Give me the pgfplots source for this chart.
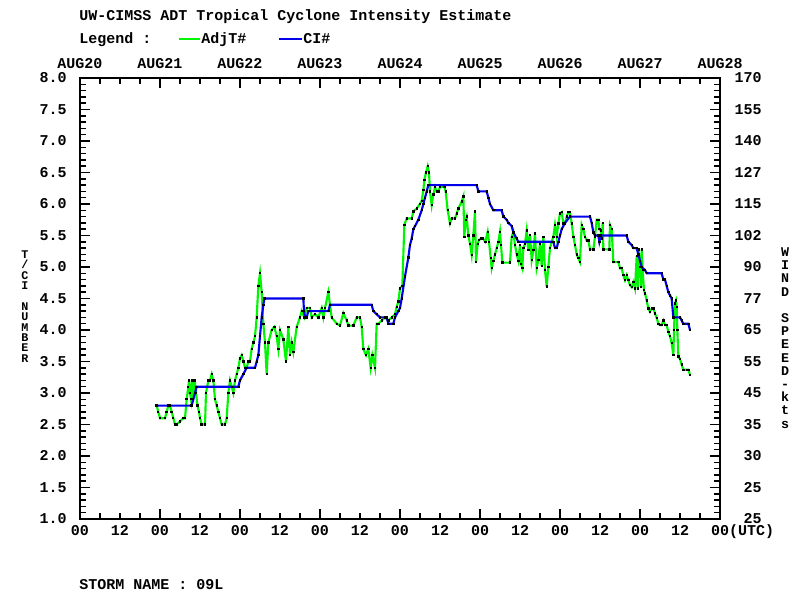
\documentclass[border=0pt]{standalone}
\usepackage{fontspec}
\setmainfont{Liberation Mono}
\usepackage{pgfplots}
\pgfplotsset{compat=1.18}
\newcommand\pf{\fontsize{11.25pt}{13pt}\selectfont\bfseries}
\definecolor{adjg}{RGB}{0,245,0}
\definecolor{cib}{RGB}{0,0,235}
\begin{document}
\begin{tikzpicture}
\path[use as bounding box] (-60pt,-60.75pt) rectangle (540pt,389.25pt);
\begin{axis}[
  at={(0pt,0pt)}, anchor=south west,
  width=480pt, height=330.75pt, scale only axis,
  xmin=0, xmax=192, ymin=1, ymax=8,
  axis line style={line width=1.5pt},
  tick style={black, line width=1.1pt},
  tick align=inside,
  major tick length=7.5pt, minor tick length=4.5pt,
  xtick={0,24,...,192},
  xticklabels={00,00,00,00,00,00,00,00,00\rlap{(UTC)}},
  extra x ticks={12,36,...,180},
  extra x tick labels={12,12,12,12,12,12,12,12},
  extra x tick style={major tick length=4.5pt},
  minor xtick={6,18,...,186},
  ytick={1,1.5,...,8},
  yticklabels={1.0,1.5,2.0,2.5,3.0,3.5,4.0,4.5,5.0,5.5,6.0,6.5,7.0,7.5,8.0},
  minor y tick num=4,
  ticklabel style={font=\pf, inner sep=0pt},
  xticklabel style={anchor=base, yshift=-12pt},
  yticklabel style={anchor=east, xshift=-9.75pt},
]
\addplot[adjg, line width=1.6pt, mark=square*, mark size=0.5pt, mark options={black, fill=black, line width=0pt}] coordinates {
(23.0,2.8) (23.5,2.7) (24.0,2.6) (25.5,2.6) (26.0,2.7) (26.5,2.8) (27.0,2.8) (27.5,2.7)
(28.0,2.6) (28.5,2.5) (29.0,2.5) (30.0,2.55) (31.0,2.6) (31.5,2.6) (32.0,2.9) (32.5,3.1)
(32.7,3.2) (33.0,3.0) (33.3,2.9) (33.6,3.2) (34.0,2.9) (34.4,3.2) (34.8,3.0) (35.25,2.8)
(35.7,2.7) (36.0,2.6) (36.5,2.5) (37.5,2.5) (37.8,3.0) (38.5,3.2) (39.0,3.2) (39.5,3.3)
(40.0,3.2) (40.5,2.9) (41.0,2.8) (41.5,2.7) (42.0,2.6) (42.5,2.5) (43.5,2.5) (44.0,2.6)
(44.5,3.0) (45.0,3.2) (45.5,3.1) (46.0,3.0) (46.5,3.2) (47.0,3.3) (47.5,3.4) (48.0,3.55)
(48.5,3.6) (49.0,3.5) (49.5,3.4) (50.0,3.4) (50.5,3.5) (51.0,3.5) (51.5,3.7) (52.0,3.8)
(52.5,3.9) (53.0,4.2) (53.5,4.7) (54.0,4.9) (54.5,4.6) (55.0,4.1) (55.5,3.8) (56.0,3.3)
(56.5,3.8) (57.5,4.0) (58.3,4.05) (59.0,3.9) (59.5,3.7) (60.0,4.0) (61.0,3.85) (61.8,3.5)
(62.5,4.05) (63.0,3.6) (63.5,3.8) (64.0,3.65) (65.0,4.05) (66.0,4.2) (66.5,4.3) (67.3,4.2)
(68.0,4.35) (69.0,4.35) (69.5,4.2) (70.5,4.25) (71.5,4.2) (72.5,4.35) (73.0,4.2) (73.5,4.35)
(74.5,4.6) (75.0,4.4) (75.5,4.2) (77.0,4.1) (78.0,4.07) (79.0,4.27) (80.0,4.15) (80.5,4.07)
(82.0,4.07) (83.0,4.2) (84.0,4.2) (84.5,4.05) (85.0,3.7) (85.8,3.6) (86.5,3.7) (87.2,3.4)
(87.7,3.6) (88.5,3.4) (89.0,4.1) (89.5,4.1) (90.5,4.15) (91.5,4.2) (92.5,4.15) (93.5,4.2)
(94.5,4.25) (95.0,4.37) (95.5,4.45) (96.0,4.66) (96.7,4.7) (97.3,5.67) (98.0,5.77) (99.5,5.77)
(100.0,5.88) (101.0,5.93) (102.0,6.0) (102.5,6.05) (103.0,6.22) (103.3,6.38) (103.8,6.5) (104.3,6.6)
(104.7,6.5) (105.0,6.2) (105.5,5.98) (106.0,6.15) (106.5,6.27) (107.0,6.2) (107.5,6.2) (108.0,6.27)
(109.3,6.27) (109.7,6.2) (110.3,5.9) (111.0,5.69) (111.5,5.77) (112.5,5.77) (113.0,5.85) (113.5,5.93)
(114.5,6.04) (115.0,6.12) (115.3,5.48) (115.7,5.75) (116.0,5.8) (116.5,5.5) (117.0,5.37) (117.5,5.19)
(118.0,5.5) (118.5,5.88) (118.8,5.08) (119.3,5.37) (119.7,5.43) (120.3,5.45) (120.9,5.45) (121.6,5.4)
(122.3,5.56) (122.7,5.4) (123.2,5.14) (123.5,4.98) (124.0,5.1) (124.5,5.2) (125.0,5.3) (125.5,5.4)
(126.0,5.56) (126.3,5.35) (126.7,5.07) (129.0,5.07) (129.5,5.48) (130.0,5.56) (130.5,5.35) (131.0,5.2)
(131.5,5.1) (132.0,5.35) (132.3,5.05) (132.7,4.98) (133.0,5.3) (133.5,5.37) (134.0,5.58) (134.5,5.27)
(135.0,5.51) (135.5,5.11) (136.0,5.27) (136.5,5.53) (137.0,4.98) (137.5,5.11) (138.0,5.37) (138.5,5.02)
(139.0,5.48) (139.5,4.95) (140.0,4.69) (140.5,5.0) (141.0,5.3) (141.5,5.4) (142.0,5.48) (142.5,5.67)
(143.0,5.48) (143.5,5.69) (144.0,5.85) (144.5,5.87) (145.0,5.69) (145.5,5.69) (146.0,5.8) (146.5,5.87)
(147.0,5.87) (147.5,5.69) (148.0,5.48) (148.5,5.35) (149.0,5.2) (149.5,5.14) (150.0,5.08) (150.5,5.67)
(151.0,5.6) (151.5,5.48) (152.0,5.42) (152.5,5.42) (153.0,5.28) (154.0,5.28) (154.5,5.48) (155.0,5.75)
(155.5,5.75) (155.8,5.6) (156.2,5.58) (156.5,5.45) (156.8,5.7) (157.0,5.28) (158.8,5.28) (159.0,5.67)
(159.5,5.6) (160.0,5.08) (161.5,5.08) (162.0,4.98) (162.5,4.98) (163.0,4.87) (163.5,4.79) (164.0,4.87)
(164.5,4.79) (165.0,4.71) (165.5,4.68) (166.0,4.76) (166.5,4.66) (167.0,5.17) (167.3,4.66) (167.6,5.28)
(168.0,5.0) (168.3,4.68) (168.5,5.28) (168.8,4.95) (169.2,4.63) (169.5,4.58) (170.0,4.47) (170.5,4.34)
(171.0,4.29) (171.5,4.34) (172.0,4.34) (172.5,4.26) (173.0,4.19) (173.5,4.1) (174.0,4.08) (174.5,4.08)
(175.0,4.15) (175.5,4.08) (176.0,4.08) (176.5,3.97) (177.0,3.9) (177.5,3.79) (178.0,3.6) (178.2,4.0)
(178.5,4.42) (178.8,4.47) (179.0,4.37) (179.2,4.0) (179.5,3.58) (180.0,3.54) (180.5,3.45) (181.0,3.37)
(182.0,3.37) (182.5,3.37) (183.0,3.29)
};
\addplot[cib, line width=1.6pt, mark=square*, mark size=0.5pt, mark options={black, fill=black, line width=0pt}] coordinates {
(23.0,2.8) (33.5,2.8) (34.0,2.9) (34.5,3.0) (35.0,3.1) (47.5,3.1) (48.0,3.2) (49.0,3.3)
(50.0,3.4) (52.5,3.4) (53.0,3.5) (53.5,3.6) (54.0,3.9) (54.5,4.2) (55.0,4.4) (55.3,4.5)
(67.0,4.5) (67.2,4.3) (67.5,4.2) (68.0,4.2) (68.5,4.3) (74.5,4.3) (75.0,4.4) (87.5,4.4)
(88.0,4.3) (89.0,4.25) (90.0,4.2) (92.0,4.2) (92.5,4.1) (94.0,4.1) (94.5,4.2) (95.5,4.3)
(96.0,4.35) (96.5,4.5) (97.5,4.85) (98.5,5.15) (99.0,5.35) (99.5,5.45) (100.0,5.6) (100.5,5.65)
(101.5,5.75) (102.5,5.9) (103.0,6.0) (103.5,6.1) (104.0,6.2) (104.5,6.3) (119.0,6.3) (119.5,6.2)
(122.0,6.2) (122.5,6.1) (123.0,6.0) (124.0,5.9) (126.5,5.9) (127.0,5.8) (128.0,5.75) (128.5,5.7)
(129.5,5.65) (130.0,5.55) (131.0,5.45) (131.5,5.4) (142.0,5.4) (142.5,5.3) (143.0,5.3) (143.5,5.4)
(144.0,5.5) (144.5,5.6) (145.5,5.7) (147.0,5.8) (153.0,5.8) (153.5,5.7) (154.0,5.55) (154.5,5.5)
(155.5,5.5) (155.8,5.4) (156.2,5.5) (164.0,5.5) (164.5,5.4) (165.5,5.35) (166.0,5.3) (167.0,5.3)
(167.5,5.2) (168.0,5.1) (168.5,5.0) (169.5,4.95) (170.0,4.9) (174.5,4.9) (175.0,4.8) (175.5,4.8)
(176.0,4.7) (176.5,4.6) (177.0,4.55) (177.5,4.5) (178.0,4.2) (180.0,4.2) (180.5,4.15) (181.0,4.1)
(182.5,4.1) (183.0,4.0)
};
\end{axis}
\begin{axis}[
  at={(0pt,0pt)}, anchor=south west,
  width=480pt, height=330.75pt, scale only axis,
  xmin=0, xmax=192, ymin=1, ymax=8,
  axis x line*=top, axis y line*=right,
  axis line style={draw=none},
  tick style={draw=none},
  major tick length=0pt, minor tick num=0,
  xtick={0,24,...,192},
  xticklabels={AUG20,AUG21,AUG22,AUG23,AUG24,AUG25,AUG26,AUG27,AUG28},
  ytick={1,1.5,...,8},
  yticklabels={25,25,30,35,45,55,65,77,90,102,115,127,140,155,170},
  ticklabel style={font=\pf, inner sep=0pt},
  xticklabel style={anchor=base, yshift=7.3pt},
  yticklabel style={anchor=east, xshift=31.5pt},
]
\end{axis}
\node[font=\pf, anchor=base west, inner sep=0pt] at (-0.75pt,373.7pt) {UW-CIMSS ADT Tropical Cyclone Intensity Estimate};
\node[font=\pf, anchor=base west, inner sep=0pt] at (-0.75pt,356.8pt) {Legend :};
\draw[adjg, line width=1.6pt] (74.25pt,359.8pt) -- (90pt,359.8pt);
\node[font=\pf, anchor=base west, inner sep=0pt] at (90.75pt,356.8pt) {AdjT\#};
\draw[cib, line width=1.6pt] (149.25pt,359.8pt) -- (166.5pt,359.8pt);
\node[font=\pf, anchor=base west, inner sep=0pt] at (167.25pt,356.8pt) {CI\#};
\node[font=\pf, anchor=base west, inner sep=0pt] at (-0.75pt,-52.7pt) {STORM NAME : 09L};
\node[font={\fontsize{8.8pt}{7.8pt}\selectfont\bfseries\lineskiplimit=-20pt}, align=center, inner sep=0pt] at (-41.25pt,159.4pt) {T\\/\\C\\I\\~\\N\\U\\M\\B\\E\\R};
\node[font={\fontsize{10pt}{9.9pt}\selectfont\bfseries\lineskiplimit=-20pt}, align=center, inner sep=0pt] at (528.75pt,135.75pt) {W\\I\\N\\D\\~\\S\\P\\E\\E\\D\\-\\k\\t\\s};
\end{tikzpicture}
\end{document}
